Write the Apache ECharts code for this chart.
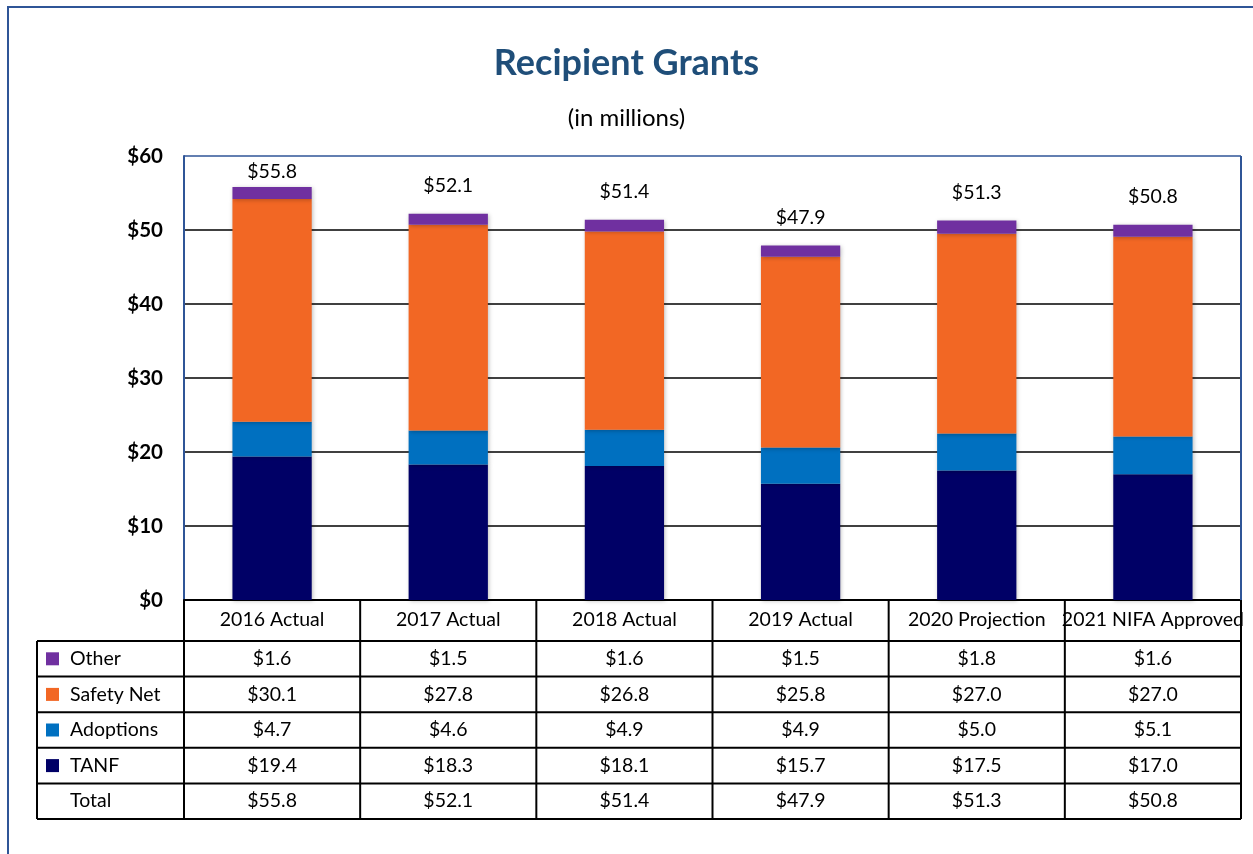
<!DOCTYPE html>
<html>
<head>
<meta charset="utf-8">
<script src="https://cdn.jsdelivr.net/npm/echarts@6/dist/echarts.min.js"></script>
<style>
  html, body { margin: 0; padding: 0; background: #fff; }
  #chart { width: 1253px; height: 854px; }
</style>
</head>
<body>
<div id="chart"></div>
<script>
// values (in millions)
const categories = ['2016 Actual', '2017 Actual', '2018 Actual', '2019 Actual', '2020 Projection', '2021 NIFA Approved'];
const other = [1.6, 1.5, 1.6, 1.5, 1.8, 1.6];
const safetyNet = [30.1, 27.8, 26.8, 25.8, 27.0, 27.0];
const adoptions = [4.7, 4.6, 4.9, 4.9, 5.0, 5.1];
const tanf = [19.4, 18.3, 18.1, 15.7, 17.5, 17.0];
const totals = [55.8, 52.1, 51.4, 47.9, 51.3, 50.8];

const colors = { other: '#7030A0', safety: '#F26724', adopt: '#0070C0', tanf: '#000066' };
const FONT = 'Lato, "Open Sans", sans-serif';
const TXT = 19.5;

// layout of the plot area (px)
const G = { left: 184, top: 156, right: 1241, bottom: 600 };
const colW = (G.right - G.left) / categories.length;
const rowTop = 641, rowH = 35.6;
const tableLeft = 37;

const rows = [
  { name: 'Other', color: colors.other, vals: other },
  { name: 'Safety Net', color: colors.safety, vals: safetyNet },
  { name: 'Adoptions', color: colors.adopt, vals: adoptions },
  { name: 'TANF', color: colors.tanf, vals: tanf },
  { name: 'Total', color: null, vals: totals }
];

const chart = echarts.init(document.getElementById('chart'));

// data table under the axis
const graphic = [];
graphic.push({
  type: 'rect', silent: true, z: 1,
  shape: { x: 8, y: 7, width: 1400, height: 1000 },
  style: { fill: 'none', stroke: '#2F5597', lineWidth: 2 }
});
// right border of the plot
graphic.push({
  type: 'line', z: 10,
  shape: { x1: G.right, y1: G.top, x2: G.right, y2: G.bottom },
  style: { stroke: '#2F5597', lineWidth: 2 }
});
const tableBottom = rowTop + rowH * rows.length;
for (let r = 0; r <= rows.length; r++) {
  const y = rowTop + r * rowH;
  graphic.push({
    type: 'line', z: 10,
    shape: { x1: tableLeft, y1: y, x2: G.right, y2: y },
    style: { stroke: '#000', lineWidth: 2 }
  });
}
graphic.push({
  type: 'line', z: 10,
  shape: { x1: tableLeft, y1: rowTop, x2: tableLeft, y2: tableBottom },
  style: { stroke: '#000', lineWidth: 2 }
});
for (let c = 0; c <= categories.length; c++) {
  const x = G.left + c * colW;
  graphic.push({
    type: 'line', z: 10,
    shape: { x1: x, y1: G.bottom, x2: x, y2: tableBottom },
    style: { stroke: '#000', lineWidth: 2 }
  });
}
rows.forEach((row, r) => {
  const cy = rowTop + r * rowH + rowH / 2;
  if (row.color) {
    graphic.push({
      type: 'rect', z: 10,
      shape: { x: 46, y: cy - 6.5, width: 13, height: 13 },
      style: { fill: row.color }
    });
  }
  graphic.push({
    type: 'text', z: 10, x: 70, y: cy,
    style: { text: row.name, font: TXT + 'px ' + FONT, fill: '#000', textAlign: 'left', textVerticalAlign: 'middle' }
  });
  row.vals.forEach((v, c) => {
    graphic.push({
      type: 'text', z: 10, x: G.left + c * colW + colW / 2, y: cy,
      style: { text: '$' + v.toFixed(1), font: TXT + 'px ' + FONT, fill: '#000', textAlign: 'center', textVerticalAlign: 'middle' }
    });
  });
});

const barShadow = { shadowBlur: 4, shadowColor: 'rgba(0,0,0,0.25)', shadowOffsetX: 1, shadowOffsetY: 1 };

const option = {
  animation: false,
  backgroundColor: '#fff',
  textStyle: { fontFamily: FONT },
  title: [
    {
      text: 'Recipient Grants', left: 'center', top: 45, padding: 0,
      textStyle: { fontSize: 36, fontWeight: 'bold', color: '#1F4E79', fontFamily: FONT }
    },
    {
      text: '(in millions)', left: 'center', top: 106, padding: 0,
      textStyle: { fontSize: 24, fontWeight: 'normal', color: '#000', fontFamily: FONT }
    }
  ],
  grid: { left: G.left, top: G.top, width: G.right - G.left, height: G.bottom - G.top },
  xAxis: {
    type: 'category',
    data: categories,
    axisLine: { lineStyle: { color: '#000', width: 2 } },
    axisTick: { show: false },
    axisLabel: { color: '#000', fontSize: TXT, margin: 10, fontFamily: FONT, interval: 0 }
  },
  yAxis: {
    type: 'value',
    min: 0, max: 60, interval: 10,
    axisLine: { show: true, lineStyle: { color: '#2F5597', width: 2 } },
    axisTick: { show: false },
    axisLabel: { color: '#000', fontSize: 20.5, fontWeight: 'bold', margin: 21, fontFamily: FONT, formatter: '${value}' },
    splitLine: { lineStyle: { color: ['#000', '#000', '#000', '#000', '#000', '#000', '#2F5597'], width: 1.5 } }
  },
  series: [
    {
      name: 'TANF', type: 'bar', stack: 'total', barWidth: '45%',
      itemStyle: Object.assign({ color: colors.tanf }, barShadow),
      data: tanf
    },
    {
      name: 'Adoptions', type: 'bar', stack: 'total',
      itemStyle: Object.assign({ color: colors.adopt }, barShadow),
      data: adoptions
    },
    {
      name: 'Safety Net', type: 'bar', stack: 'total',
      itemStyle: Object.assign({ color: colors.safety }, barShadow),
      data: safetyNet
    },
    {
      name: 'Other', type: 'bar', stack: 'total',
      itemStyle: Object.assign({ color: colors.other }, barShadow),
      label: {
        show: true, position: 'top', distance: 18,
        fontSize: TXT, color: '#000', fontFamily: FONT,
        formatter: (p) => '$' + totals[p.dataIndex].toFixed(1)
      },
      // first label sits lower because it would run into the top of the plot
      data: other.map((v, i) => (i === 0 ? { value: v, label: { distance: 5 } } : v))
    }
  ],
  graphic: graphic
};

chart.setOption(option);
</script>
</body>
</html>
